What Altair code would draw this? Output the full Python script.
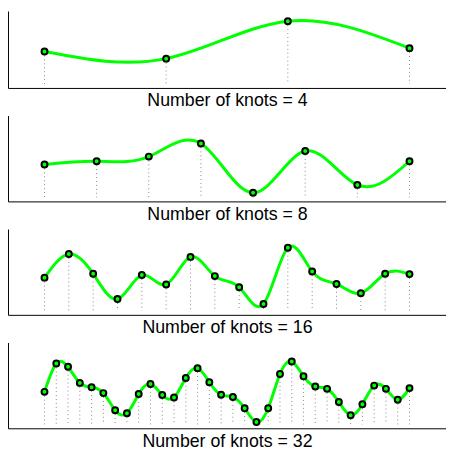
import altair as alt
import pandas as pd

# Knot values (one list per panel)
knots_4 = [0.412, 0.321, 0.796, 0.454]
knots_8 = [0.418, 0.459, 0.518, 0.684, 0.059, 0.588, 0.159, 0.459]
knots_16 = [0.421, 0.721, 0.471, 0.150, 0.454, 0.334, 0.684, 0.441,
            0.300, 0.088, 0.800, 0.500, 0.341, 0.225, 0.471, 0.466]
knots_32 = [0.412, 0.771, 0.729, 0.525, 0.471, 0.396, 0.179, 0.141,
            0.384, 0.512, 0.371, 0.341, 0.588, 0.712, 0.534, 0.375,
            0.346, 0.204, 0.029, 0.204, 0.638, 0.796, 0.609, 0.479,
            0.450, 0.284, 0.116, 0.254, 0.491, 0.450, 0.312, 0.459]

panels = [knots_4, knots_8, knots_16, knots_32]
heights = [78, 87, 87, 87]
y_tops = [0.925, 1.0375, 1.0375, 1.0375]

GREEN = "#00ff00"


def panel(vals, h, ytop):
    n = len(vals)
    df = pd.DataFrame({"k": list(range(n)), "v": vals})
    span = n - 1
    xs = alt.Scale(domain=[-0.1 * span, 1.1 * span], nice=False, zero=False)
    ys = alt.Scale(domain=[-0.05, ytop], nice=False, zero=False)
    x = alt.X("k:Q", scale=xs,
              axis=alt.Axis(labels=False, ticks=False, grid=False,
                            domainColor="#000", domainWidth=1,
                            title=f"Number of knots = {n}",
                            titleFont="Liberation Sans", titleFontSize=18,
                            titleFontWeight="normal", titleColor="#000",
                            titlePadding=4))
    y = alt.Y("v:Q", scale=ys,
              axis=alt.Axis(labels=False, ticks=False, grid=False,
                            domainColor="#000", domainWidth=1, title=None))
    base = alt.Chart(df)
    rules = base.mark_rule(color="#888", strokeDash=[1, 3], strokeWidth=1).encode(
        x=x, y=y, y2=alt.datum(0))
    line = base.mark_line(color=GREEN, strokeWidth=3, interpolate="natural").encode(
        x=x, y=y)
    pts = base.mark_point(shape="circle", size=36, filled=False, fill=GREEN,
                          fillOpacity=1, stroke="#000", strokeWidth=2,
                          opacity=1).encode(x=x, y=y)
    return alt.layer(rules, line, pts).properties(width=444, height=h)


chart = alt.vconcat(*[panel(v, h, t) for v, h, t in zip(panels, heights, y_tops)],
                    spacing=6).properties(
    padding={"left": 0, "top": 0, "right": 0, "bottom": 0},
    background="white",
).configure_view(stroke=None, strokeWidth=0)

chart.save("out.html", embed_options={"renderer": "svg", "actions": False})
